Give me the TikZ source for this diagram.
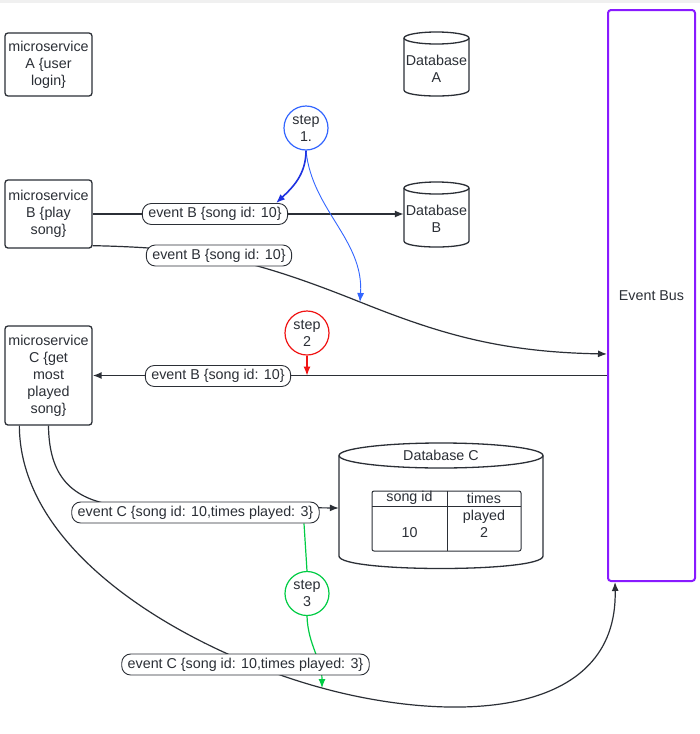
\documentclass[tikz,border=0pt]{standalone}
\usepackage{fontspec}
\setmainfont{Liberation Sans}
\usetikzlibrary{arrows.meta,calc}
\definecolor{ink}{HTML}{2B2F36}
\definecolor{stepblue}{RGB}{51,102,255}
\definecolor{bluedark}{RGB}{30,50,225}
\definecolor{stepred}{RGB}{240,20,20}
\definecolor{stepgreen}{RGB}{0,204,68}
\definecolor{purp}{RGB}{136,26,255}
\pgfdeclarelayer{bg}
\pgfsetlayers{bg,main}
\newcommand\dbcyl[5]{%
  \draw[cylline] (#1-#4,#2+#5) -- (#1-#4,#3) .. controls (#1-#4,#3+1.333*#5) and (#1+#4,#3+1.333*#5) .. (#1+#4,#3) -- (#1+#4,#2+#5);
  \draw[cylline] (#1,#2+#5) ellipse [x radius=#4pt, y radius=#5pt];}
\begin{document}
\begin{tikzpicture}[x=1pt,y=-1pt,
  every node/.style={font=\fontsize{14.3}{17}\selectfont, text=ink},
  svc/.style={draw=ink, line width=1.3pt, rounded corners=3pt, minimum width=87pt, align=center, inner sep=0pt},
  pill/.style={draw=ink, line width=0.9pt, rounded corners=9pt, fill=white, minimum height=21pt, inner xsep=6pt, inner ysep=0pt},
  stepc/.style={circle, draw=#1, line width=1.2pt, minimum size=44pt, inner sep=0pt, align=center},
  conn/.style={draw=ink, line width=1.2pt},
  arr/.style={-{Latex[length=9pt,width=7pt]}},
  cylline/.style={draw=ink, line width=1.3pt},
  plain/.style={inner sep=0pt, align=center}
]
\useasboundingbox (0,0) rectangle (700,734);

% services
\node[svc, minimum height=63pt] (mA) at (48.5,64.5) {microservice\\A \{user\\login\}};
\node[svc, minimum height=68pt] (mB) at (48.5,214) {microservice\\B \{play\\song\}};
\node[svc, minimum height=99pt] (mC) at (48.5,375.5) {microservice\\C \{get\\most\\played\\song\}};

% databases
\dbcyl{436.5}{32}{90}{32.5}{6}
\node[plain, minimum width=65pt] (dbA) at (436.5,68.5) {Database\\A};
\dbcyl{436.5}{182}{241}{32.5}{6}
\node[plain, minimum width=65pt] (dbB) at (436.5,218.5) {Database\\B};
\dbcyl{441}{443}{556}{102}{12.5}
\node[plain, minimum width=204pt] (dbC) at (441,455) {Database C};
\draw[ink, line width=1pt, rounded corners=2pt] (372,491) rectangle (521,551);
\draw[ink, line width=1pt] (372,506) -- (521,506) (447,491) -- (447,551);
\node[plain] (th1) at (409.5,498) {song id};
\node[plain] (th2) at (484,498) {times};
\node[plain] (td1) at (409.5,533) {10};
\node[plain] (td2) at (484,524) {played\\2};

% event bus
\node[draw=purp, line width=2pt, rounded corners=3pt, minimum width=87pt, minimum height=571pt, inner sep=0pt] (bus) at (651.5,295.5) {Event Bus};

% steps
\node[stepc=stepblue] (s1) at (306,128) {step\\1.};
\node[stepc=stepred] (s2) at (307,333) {step\\2};
\node[stepc=stepgreen] (s3) at (307,593.5) {step\\3};

% labels
\node[pill] (eB1) at (215,214) {event B \{song id: 10\}};
\node[pill] (eB2) at (219,255.5) {event B \{song id: 10\}};
\node[pill] (eB3) at (218,376) {event B \{song id: 10\}};
\node[pill] (eC1) at (195.5,512.5) {event C \{song id: 10,times played: 3\}};
\node[pill] (eC2) at (245.5,664.5) {event C \{song id: 10,times played: 3\}};

\begin{pgfonlayer}{bg}
\fill[white] (0,0) rectangle (700,734);
\fill[gray!12] (0,0) rectangle (700,2.5);
\draw[conn, line width=1.4pt, arr] (mB.east) -- (mB.east -| dbB.west);
\draw[conn, arr] ([yshift=3pt]mB.south east) .. controls (200,248) and (250,258) .. (360,302) coordinate (hit1) .. controls (440,334) and (500,352) .. ([yshift=-58.5pt]bus.west);
\draw[conn, line width=1.6pt, arr] (mC.east -| bus.west) -- (mC.east);
\draw[conn, arr] (mC.south) .. controls (49,475) and (70,500) .. (120,506) -- ([yshift=-53pt]dbC.west);
\draw[conn, arr] ([xshift=15pt]mC.south west) .. controls (20,560) and (200,655) .. (322,688) coordinate (hit3) .. controls (450,723) and (618,720) .. ([xshift=8pt]bus.south west);
\draw[stepblue, line width=0.9pt, arr] (s1.south) .. controls (312,210) and (364,240) .. (hit1);
\draw[bluedark, line width=1.6pt, arr] (s1.south) .. controls (306,175) and (292,188) .. ([xshift=-12pt]eB1.north east);
\draw[stepred, line width=1.2pt, arr] (s2.south) -- (s2.south |- mC.east);
\draw[stepgreen, line width=1.2pt] ([xshift=108.5pt]eC1.south) -- (s3.north);
\draw[stepgreen, line width=1.2pt, arr] (s3.south) .. controls (308,645) and (322,660) .. (hit3);
\end{pgfonlayer}
\end{tikzpicture}
\end{document}
